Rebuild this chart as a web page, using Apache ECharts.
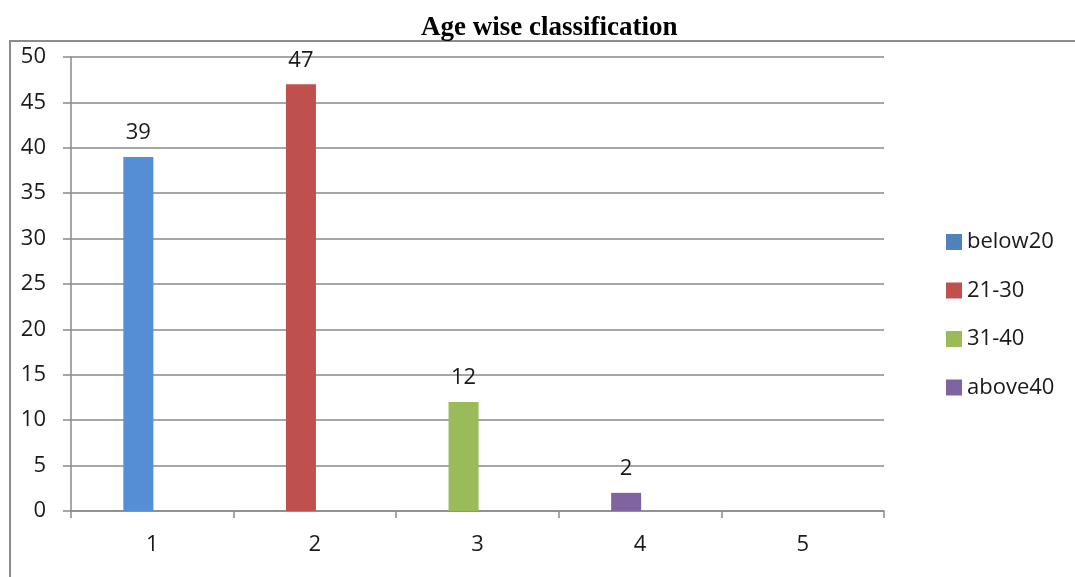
<!DOCTYPE html>
<html>
<head>
<meta charset="utf-8">
<script src="https://cdn.jsdelivr.net/npm/echarts@6/dist/echarts.min.js"></script>
<style>
html,body{margin:0;padding:0;background:#fff;}
#chart{width:1075px;height:577px;}
</style>
</head>
<body>
<div id="chart"></div>
<script>
// ---- data ----
const titleText = 'Age wise classification';
const categories = ['1', '2', '3', '4', '5'];
const seriesNames = ['below20', '21-30', '31-40', 'above40'];
const below20 = [39, null, null, null, null];
const age21to30 = [null, 47, null, null, null];
const age31to40 = [null, null, 12, null, null];
const above40 = [null, null, null, 2, null];
const yTicks = { min: 0, max: 50, interval: 5 };

// ---- styles ----
const barColors = ['#558ED5', '#C0504D', '#9BBB59', '#8064A2'];
const legendColors = ['#4F81BD', '#C0504D', '#9BBB59', '#8064A2'];
const font = "'Open Sans', 'Noto Sans', sans-serif";
const gridColor = '#8a8a8a';

const valuesList = [below20, age21to30, age31to40, above40];

const chart = echarts.init(document.getElementById('chart'), null, { renderer: 'canvas' });

const series = valuesList.map((vals, i) => ({
  name: seriesNames[i],
  type: 'bar',
  stack: 'main',
  data: vals,
  barWidth: 30,
  barGap: '-7%',
  itemStyle: { color: barColors[i] },
  label: {
    show: true,
    position: 'top',
    distance: 13,
    fontFamily: font,
    fontSize: 22,
    color: '#1a1a1a'
  }
}));
// placeholder slot (second column in each category, empty)
series.push({
  name: 'pad',
  type: 'bar',
  stack: 'pad',
  data: categories.map(() => null),
  barWidth: 30,
  barGap: '-7%',
  silent: true
});

chart.setOption({
  animation: false,
  backgroundColor: '#ffffff',
  title: {
    text: titleText,
    left: 416,
    top: 10,
    textStyle: {
      fontFamily: "'Liberation Serif', 'Times New Roman', serif",
      fontWeight: 'bold',
      fontSize: 27,
      color: '#000'
    }
  },
  graphic: [{
    type: 'rect',
    shape: { x: 10, y: 41, width: 1100, height: 600 },
    style: { fill: 'none', stroke: '#8c8c8c', lineWidth: 2 },
    silent: true,
    z: -1
  }],
  legend: {
    orient: 'vertical',
    left: 941,
    top: 226,
    itemWidth: 16,
    itemHeight: 16,
    itemGap: 26.5,
    icon: 'rect',
    data: seriesNames.map((n, i) => ({ name: n, itemStyle: { color: legendColors[i] } })),
    textStyle: {
      fontFamily: font,
      fontSize: 22,
      lineHeight: 22,
      color: '#1a1a1a'
    }
  },
  grid: {
    left: 71,
    right: 191,
    top: 57,
    bottom: 66,
    containLabel: false
  },
  xAxis: {
    type: 'category',
    data: categories,
    boundaryGap: true,
    axisLine: { show: true, lineStyle: { color: gridColor, width: 1.5 } },
    axisTick: { show: true, length: 7, alignWithLabel: false, lineStyle: { color: gridColor, width: 1.5 } },
    axisLabel: { margin: 23, fontFamily: font, fontSize: 22, color: '#1a1a1a' },
    splitLine: { show: false }
  },
  yAxis: {
    type: 'value',
    min: yTicks.min,
    max: yTicks.max,
    interval: yTicks.interval,
    axisLine: { show: true, lineStyle: { color: gridColor, width: 1.5 } },
    axisTick: { show: true, length: 8, lineStyle: { color: gridColor, width: 1.5 } },
    axisLabel: { margin: 25, fontFamily: font, fontSize: 22, color: '#1a1a1a' },
    splitLine: { show: true, lineStyle: { color: gridColor, width: 1.5 } }
  },
  series: series
});
</script>
</body>
</html>
